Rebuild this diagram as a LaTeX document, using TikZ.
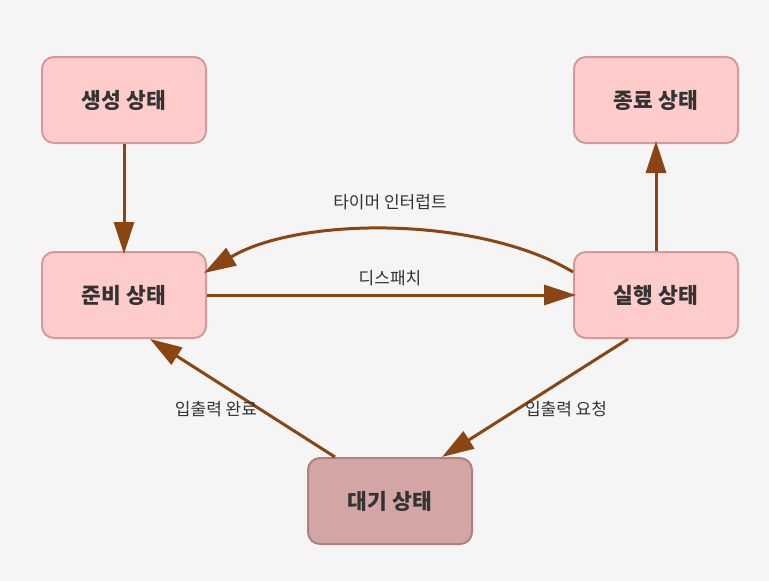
\documentclass[tikz,border=0pt]{standalone}
\usepackage{fontspec}
\setmainfont{Noto Sans CJK KR}
\usetikzlibrary{arrows.meta}

\definecolor{bgcol}{HTML}{F5F5F5}
\definecolor{statefill}{HTML}{FFCCCC}
\definecolor{statedraw}{HTML}{D49A9A}
\definecolor{waitfill}{HTML}{D4A5A5}
\definecolor{waitdraw}{HTML}{B07F7F}
\definecolor{arrowcol}{HTML}{8B4513}
\definecolor{textcol}{HTML}{333333}

\begin{document}
\begin{tikzpicture}[x=1pt, y=-1pt]

\tikzset{ statestyle/.style={draw=statedraw, fill=statefill, line width=2pt,
    rounded corners=12pt, minimum width=164pt, minimum height=86pt,
    text=textcol, font={\fontsize{21.5pt}{25pt}\selectfont\bfseries}},
  waitstyle/.style={statestyle, draw=waitdraw, fill=waitfill},
  arrowstyle/.style = {draw=arrowcol, line width=3pt,
    -{Triangle[length=32pt, width=20pt]}},
  labelstyle/.style={text=textcol, font={\fontsize{17pt}{20pt}\selectfont}}
}

\fill[bgcol] (0,0) rectangle (769,581);
\useasboundingbox (0,0) rectangle (769,581);

\node[statestyle] (new) at (124, 100) {생성 상태};
\node[statestyle] (done) at (656, 100) {종료 상태};
\node[statestyle] (ready) at (124, 295) {준비 상태};
\node[statestyle] (run) at (656, 295) {실행 상태};
\node[waitstyle] (wait) at (390, 501) {대기 상태};

\draw[arrowstyle] (new) -- ([yshift=-3pt]ready.north);
\draw[arrowstyle] (run) -- ([yshift=3pt]done.south);
\draw[arrowstyle] (ready.east) -- ([xshift=3pt]run.west);
\draw[arrowstyle] ([yshift=23pt]run.west) .. controls (480, 216) and (300, 216) .. ([yshift=22pt, xshift=-3pt]ready.east);
\draw[arrowstyle] ([xshift=-28pt]run.south) -- ([xshift=52pt]wait.north);
\draw[arrowstyle] ([xshift=-55pt]wait.north) -- ([xshift=26pt]ready.south);

\node[labelstyle] (lbltimer) at (390, 202) {타이머 인터럽트};
\node[labelstyle] (lbldispatch) at (390, 278) {디스패치};
\node[labelstyle] (lblioreq) at (566, 409) {입출력 요청};
\node[labelstyle] (lbliodone) at (216, 409) {입출력 완료};

\end{tikzpicture}
\end{document}
